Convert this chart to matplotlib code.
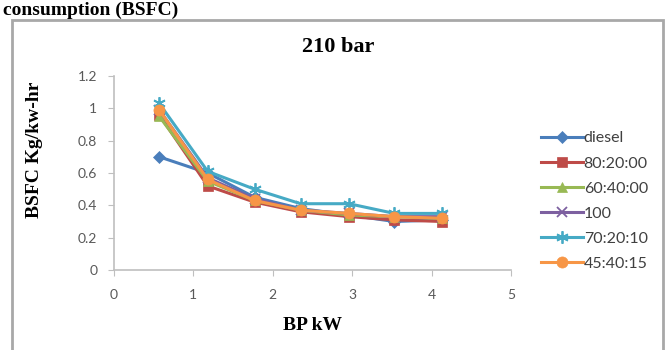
import numpy as np
import matplotlib.pyplot as plt
from matplotlib.patches import Rectangle

# data
bp = [0.57, 1.18, 1.77, 2.35, 2.96, 3.53, 4.13]
series_names = ['diesel', '80:20:00', '60:40:00', '100', '70:20:10', '45:40:15']
diesel = [0.70, 0.60, 0.45, 0.38, 0.34, 0.30, 0.31]
b80_20_00 = [0.96, 0.52, 0.42, 0.36, 0.33, 0.31, 0.30]
b60_40_00 = [0.95, 0.55, 0.43, 0.37, 0.34, 0.33, 0.32]
b100 = [0.99, 0.57, 0.44, 0.37, 0.35, 0.33, 0.33]
b70_20_10 = [1.03, 0.61, 0.50, 0.41, 0.41, 0.35, 0.35]
b45_40_15 = [0.99, 0.56, 0.43, 0.37, 0.35, 0.33, 0.32]
werte = [diesel, b80_20_00, b60_40_00, b100, b70_20_10, b45_40_15]

farben = ['#4A7EBB', '#BE4B48', '#98B954', '#7D60A0', '#46AAC5', '#F79646']
marker = ['D', 's', '^', 'x', (6, 2, 0), 'o']
groesse = [6, 7, 7, 7, 9, 8]

fig = plt.figure(figsize=(6.71, 3.5), dpi=100)
fig.text(3 / 671, 1 - 10 / 350, 'consumption (BSFC)', family='Liberation Serif',
         weight='bold', fontsize=14, va='center', ha='left')
fig.patches.append(Rectangle((12 / 671, -0.01), (663 - 12) / 671, 1 - 20 / 350 + 0.01,
                             transform=fig.transFigure, fill=False,
                             edgecolor='#A8A8A8', linewidth=2))

ax = fig.add_axes([114 / 671, 1 - 270 / 350, (511 - 114) / 671, (270 - 76) / 350])
for name, y, c, m, s in zip(series_names, werte, farben, marker, groesse):
    ax.plot(bp, y, color=c, marker=m, markersize=s, linewidth=2.2, label=name,
            markeredgewidth=1.3 if m in ('x', (6, 2, 0)) else 0.5)

ax.set_xlim(0, 5)
ax.set_ylim(0, 1.2)
ax.set_xticks(np.arange(0, 6, 1))
ax.set_yticks(np.arange(0, 1.21, 0.2))
ax.set_xticklabels([str(i) for i in range(6)])
ax.set_yticklabels(['0', '0.2', '0.4', '0.6', '0.8', '1', '1.2'])
for s in ['top', 'right']:
    ax.spines[s].set_visible(False)
for s in ['left', 'bottom']:
    ax.spines[s].set_color('#BFBFBF')
    ax.spines[s].set_linewidth(1.2)
ax.tick_params(colors='#BFBFBF', labelcolor='#595959', labelsize=10, length=4,
               direction='out')
for t in ax.get_xticklabels() + ax.get_yticklabels():
    t.set_family('Lato')
ax.tick_params(axis='x', pad=10)
ax.tick_params(axis='y', pad=8)

ax.set_title('210 bar', family='Liberation Serif', weight='bold', fontsize=16,
             x=(338 - 114) / 397, pad=17)
ax.set_xlabel('BP kW', family='Liberation Serif', weight='bold', fontsize=14, labelpad=11)
ax.set_ylabel('BSFC Kg/kw-hr', family='Liberation Serif', weight='bold', fontsize=14)
ax.yaxis.set_label_coords(-0.18, 0.62)

ax.legend(loc='center left', bbox_to_anchor=(527 / 671, 1 - 201 / 350),
          bbox_transform=fig.transFigure, frameon=False,
          prop={'family': 'Lato', 'size': 11.5}, labelspacing=0.68,
          handlelength=2.6, handletextpad=0.05, labelcolor='#404040')

fig.savefig('out.png', dpi=100)
